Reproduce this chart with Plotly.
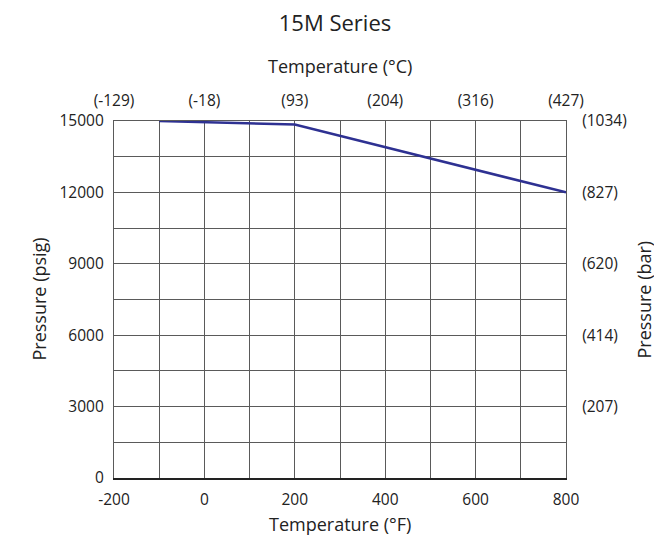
import plotly.graph_objects as go

temp_f = [-100, 200, 800]
pressure_psig = [15000, 14850, 12000]

x_ticks_f = [-200, 0, 200, 400, 600, 800]
x_ticks_f_text = ["-200", "0", "200", "400", "600", "800"]
x_ticks_c = ["(-129)", "(-18)", "(93)", "(204)", "(316)", "(427)"]
y_ticks_psig = [0, 3000, 6000, 9000, 12000, 15000]
y_ticks_psig_text = ["0", "3000", "6000", "9000", "12000", "15000"]
y_ticks_bar_vals = [3000, 6000, 9000, 12000, 15000]
y_ticks_bar = ["(207)", "(414)", "(620)", "(827)", "(1034)"]

FONT = "Open Sans"
grid = "#5a5a5a"
TXT = "#222"

fig = go.Figure()
fig.add_trace(go.Scatter(x=temp_f, y=pressure_psig, mode="lines",
                         line=dict(color="#2e3192", width=2.5), hoverinfo="skip",
                         showlegend=False))
fig.add_trace(go.Scatter(x=temp_f, y=pressure_psig, mode="lines", xaxis="x2", yaxis="y2",
                         line=dict(color="rgba(0,0,0,0)", width=0), hoverinfo="skip",
                         showlegend=False))

tf = dict(size=15.5, color=TXT, family=FONT)

fig.update_layout(
    width=654, height=532,
    margin=dict(l=106, r=96, t=113, b=62),
    paper_bgcolor="white", plot_bgcolor="white",
    font=dict(family=FONT, color=TXT),
    title=dict(text="15M Series", x=0.5, xanchor="center", y=1 - 15 / 532, yanchor="middle",
               font=dict(size=22, family=FONT, color=TXT)),
    xaxis=dict(range=[-200, 800], tickvals=x_ticks_f, ticktext=x_ticks_f_text,
               showgrid=True, gridcolor=grid, gridwidth=1.2,
               minor=dict(dtick=100, showgrid=True, gridcolor=grid, gridwidth=1.2),
               showline=True, linecolor="#222", linewidth=1.8, zeroline=False,
               ticks="", ticklabelstandoff=6, tickfont=tf, automargin=False),
    yaxis=dict(range=[0, 15000], tickvals=y_ticks_psig, ticktext=y_ticks_psig_text,
               showgrid=True, gridcolor=grid, gridwidth=1.2,
               minor=dict(dtick=1500, showgrid=True, gridcolor=grid, gridwidth=1.2),
               showline=True, linecolor=grid, linewidth=1.2, zeroline=False,
               ticks="", ticklabelstandoff=6, tickfont=tf, automargin=False),
    xaxis2=dict(range=[-200, 800], overlaying="x", side="top", tickvals=x_ticks_f, ticktext=x_ticks_c,
                showgrid=False, showline=True, linecolor=grid, linewidth=1.2, zeroline=False,
                ticks="", ticklabelstandoff=8, tickfont=tf, automargin=False),
    yaxis2=dict(range=[0, 15000], overlaying="y", side="right", tickvals=y_ticks_bar_vals,
                ticktext=y_ticks_bar, showgrid=False, showline=True, linecolor=grid, linewidth=1.2,
                zeroline=False, ticks="", ticklabelstandoff=12, tickfont=tf, automargin=False),
    annotations=[
        dict(text="Temperature (°F)", xref="paper", yref="paper", x=0.5, y=-(524 - 478) / 357,
             xanchor="center", yanchor="middle", showarrow=False, font=dict(size=18, family=FONT, color=TXT)),
        dict(text="Temperature (°C)", xref="paper", yref="paper", x=0.5, y=1 + (121 - 66) / 357,
             xanchor="center", yanchor="middle", showarrow=False, font=dict(size=18, family=FONT, color=TXT)),
        dict(text="Pressure (psig)", xref="paper", yref="paper", x=-(114 - 38) / 452, y=0.5,
             xanchor="center", yanchor="middle", textangle=-90, showarrow=False,
             font=dict(size=18, family=FONT, color=TXT)),
        dict(text="Pressure (bar)", xref="paper", yref="paper", x=1 + (643 - 566) / 452, y=0.5,
             xanchor="center", yanchor="middle", textangle=-90, showarrow=False,
             font=dict(size=18, family=FONT, color=TXT)),
    ],
)

fig.write_html("out.html")
